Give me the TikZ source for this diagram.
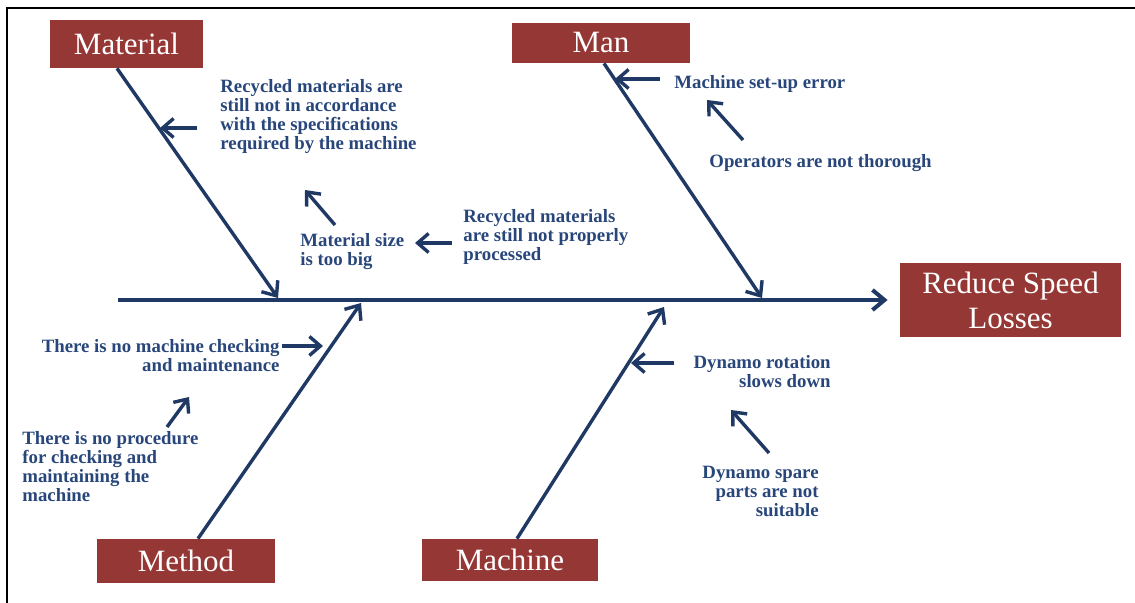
\documentclass[tikz,border=0pt]{standalone}
\usepackage{fontspec}
\setmainfont{Liberation Serif}
\usetikzlibrary{arrows.meta,positioning}
\definecolor{navy}{RGB}{31,56,100}
\definecolor{navytxt}{RGB}{40,70,122}
\definecolor{catred}{RGB}{149,55,53}
\tikzset{
  catbox/.style ={fill=catred, text=white, inner sep=0pt, align=center,
                  font=\fontsize{15.5}{17.5}\selectfont},
  spine/.style  ={-{Straight Barb[length=6pt,width=10pt]}, line width=2pt,
                  navy},
  bone/.style   ={-{Straight Barb[length=6pt,width=10pt]}, line width=1.7pt,
                  navy},
  cause/.style  ={-{Straight Barb[length=5.5pt,width=9.5pt]},
                  line width=1.7pt, navy},
  why/.style    ={font=\fontsize{9.4}{9.5}\selectfont\bfseries,
                  text=navytxt, inner sep=0pt},
  frame/.style  ={line width=1.2pt, black},
}

\begin{document}
\begin{tikzpicture}[x=0.5pt,y=-0.5pt]
  \useasboundingbox (0,0) rectangle (1135,603);
  \draw[frame] (7,603) -- (7,8) -- (1135,8);
  % category boxes and effect
  \node[catbox, minimum width=76.5pt, minimum height=24pt] (material) at (126.5,44) {Material};
  \node[catbox, minimum width=89pt, minimum height=20pt]   (man)      at (601,43)    {Man};
  \node[catbox, minimum width=89pt, minimum height=22pt]   (method)   at (186,561)   {Method};
  \node[catbox, minimum width=88pt, minimum height=21pt]   (machine)  at (510,560)   {Machine};
  \node[catbox, minimum width=110.5pt, minimum height=37pt] (effect) at (1010.5,300)
    {Reduce Speed\\Losses};
  % spine and bones
  \coordinate (tail) at (118,300);
  \draw[spine, shorten >=6pt] (tail) -- (effect.west);
  \coordinate (matJ) at (278,298);
  \coordinate (manJ) at (762,298);
  \coordinate (metJ) at (361,303);
  \coordinate (macJ) at (664,307);
  \draw[bone] ([xshift=-4.75pt]material.south) -- (matJ);
  \draw[bone] ([xshift=1.5pt]man.south) -- (manJ);
  \draw[bone] ([xshift=6pt]method.north) -- (metJ);
  \draw[bone] ([xshift=3.5pt]machine.north) -- (macJ);
  % material causes (base = last line)
  \node[why, align=left, anchor=base west] (matA) at (220,150)
    {Recycled materials are\\still not in accordance\\with the specifications\\required by the machine};
  \node[why, align=left, anchor=base west] (matB) at (300,266)
    {Material size\\is too big};
  \node[why, align=left, anchor=base west] (matC) at (463,261)
    {Recycled materials\\are still not properly\\processed};
  \coordinate (matA0) at (197,128);  \coordinate (matA1) at (160,128);
  \coordinate (matB0) at (335,225);  \coordinate (matB1) at (305,190);
  \coordinate (matC0) at (452,243);  \coordinate (matC1) at (415,243);
  \draw[cause] (matA0) -- (matA1);
  \draw[cause] (matB0) -- (matB1);
  \draw[cause] (matC0) -- (matC1);
  % man causes
  \node[why, anchor=base west] (manA) at (674,89)  {Machine set-up error};
  \node[why, anchor=base west] (manB) at (709,168) {Operators are not thorough};
  \coordinate (manA0) at (660,79);   \coordinate (manA1) at (615,79);
  \coordinate (manB0) at (743,140);  \coordinate (manB1) at (707,100);
  \draw[cause] (manA0) -- (manA1);
  \draw[cause] (manB0) -- (manB1);
  % method causes
  \node[why, align=right, anchor=base east] (metA) at (280,372)
    {There is no machine checking\\and maintenance};
  \node[why, align=left, anchor=base west] (metB) at (22,502)
    {There is no procedure\\for checking and\\maintaining the\\machine};
  \coordinate (metA0) at (282,346);  \coordinate (metA1) at (323,346);
  \coordinate (metB0) at (167,427);  \coordinate (metB1) at (189,397);
  \draw[cause] (metA0) -- (metA1);
  \draw[cause] (metB0) -- (metB1);
  % machine causes
  \node[why, align=right, anchor=base east] (macA) at (831,388)
    {Dynamo rotation\\slows down};
  \node[why, align=right, anchor=base east] (macB) at (819,517)
    {Dynamo spare\\parts are not\\suitable};
  \coordinate (macA0) at (674,363);  \coordinate (macA1) at (631,363);
  \coordinate (macB0) at (769,453);  \coordinate (macB1) at (731,410);
  \draw[cause] (macA0) -- (macA1);
  \draw[cause] (macB0) -- (macB1);
\end{tikzpicture}
\end{document}
